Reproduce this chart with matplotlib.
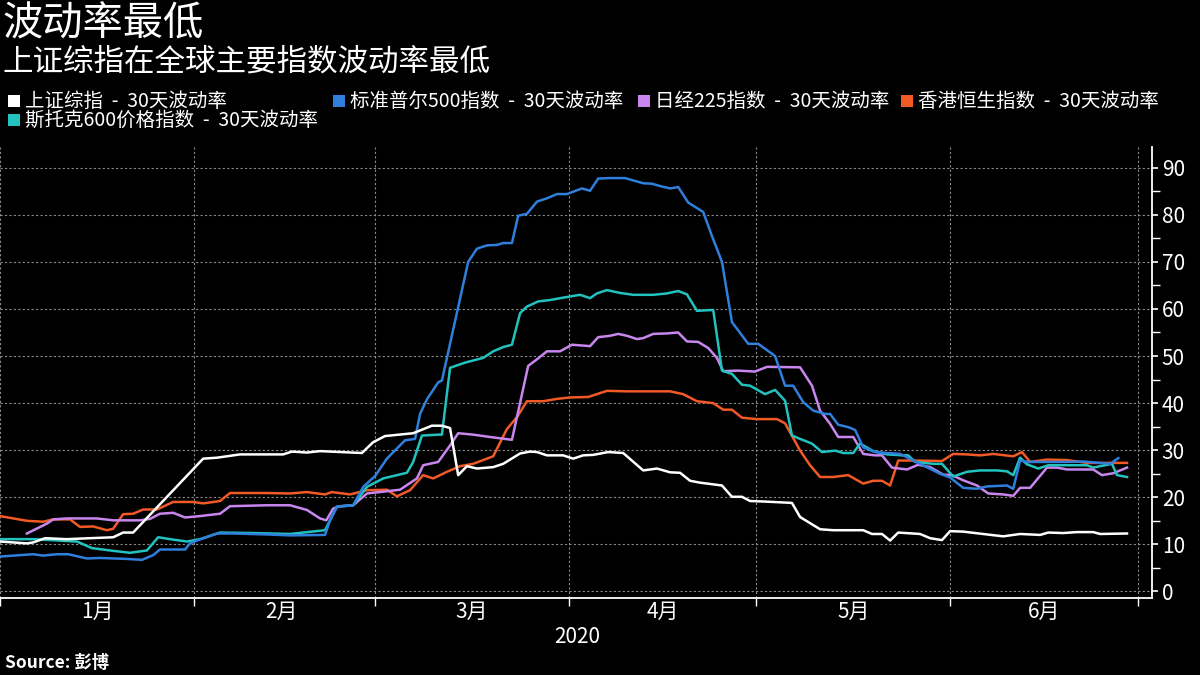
import matplotlib
matplotlib.use('Agg')
import matplotlib.pyplot as plt
import matplotlib.dates as mdates
from matplotlib.patches import Rectangle
import numpy as np
import pandas as pd

plt.rcParams['font.family'] = ['Noto Sans CJK SC', 'DejaVu Sans']

# ---------------- data (days since 2020-01-01, 30-day volatility) ----------------
sse_days = [0, 4.3, 5.3, 7.2, 10.7, 18.1, 19.7, 21.3, 32.5, 34.7, 38.4, 45.3, 46.7, 49.1, 51.2,
            57.9, 59.7, 61.6, 66.1, 69.1, 70.7, 72.0, 73.3, 74.7, 76.3, 78.9, 80.5, 83.2, 84.8, 85.9,
            87.5, 90.1, 91.7, 93.3, 94.9, 97.3, 99.7, 102.9, 105.1, 107.2, 108.8, 110.4, 112.0, 115.5,
            117.1, 118.7, 120.0, 122.1, 126.7, 128.0, 131.2, 133.3, 138.1, 139.5, 141.1, 142.4, 143.7,
            147.2, 148.8, 150.7, 152.0, 154.1, 157.9, 160.5, 163.2, 166.4, 167.7, 170.1, 172.3, 174.9,
            176.0, 180.3]
sse_vals = [10.6, 10.2, 10.4, 11.3, 11.1, 11.5, 12.5, 12.5, 28.2, 28.4, 29.1, 29.1, 29.7, 29.5, 29.8,
            29.4, 31.7, 33.0, 33.6, 35.2, 35.2, 34.7, 24.7, 26.6, 26.1, 26.4, 27.1, 29.3, 29.7, 29.6,
            28.9, 28.9, 28.2, 28.9, 29.0, 29.6, 29.4, 25.7, 26.1, 25.3, 25.2, 23.5, 23.1, 22.5,
            20.1, 20.1, 19.2, 19.1, 18.8, 15.8, 13.2, 13.0, 13.0, 12.2, 12.2, 10.8, 12.5,
            12.2, 11.3, 10.9, 12.8, 12.7, 12.1, 11.7, 12.2, 12.0, 12.5, 12.4, 12.6, 12.6,
            12.2, 12.3]

spx_days = [0, 2.1, 5.3, 6.9, 9.1, 10.9, 13.9, 16.0, 20.3, 22.7, 24.5, 25.6, 29.6, 30.4, 31.5,
            34.7, 37.3, 42.7, 46.4, 52.0, 52.8, 53.9, 56.5, 58.1, 60.0, 61.9, 64.8, 66.4, 67.2, 68.3,
            70.1, 70.7, 74.9, 76.3, 77.9, 79.5, 80.5, 81.9, 82.9, 84.3, 85.9, 87.5, 89.1, 90.7, 93.1,
            94.4, 95.7, 97.6, 100.0, 101.3, 102.9, 104.3, 105.6, 107.2, 108.5, 110.1, 112.5, 113.9,
            115.5, 117.1, 119.7, 121.3, 124.0, 125.6, 126.9, 128.5, 130.1, 132.0, 132.8, 134.1,
            135.7, 136.8, 138.1, 140.0, 141.9, 144.0, 145.1, 147.2, 150.4, 152.0, 154.1, 156.3,
            157.9, 161.1, 162.1, 163.2, 164.5, 167.5, 170.7, 173.3, 177.6, 178.9]
spx_vals = [7.4, 7.6, 7.9, 7.6, 7.9, 7.9, 7.0, 7.1, 6.9, 6.7, 7.7, 8.9, 8.9, 10.2, 10.8,
            12.3, 12.3, 12.1, 11.9, 12.0, 15.1, 18.0, 18.3, 22.2, 24.5, 28.2, 32.1, 32.4, 37.7, 40.8,
            44.4, 44.8, 70.0, 72.8, 73.5, 73.6, 74.0, 74.0, 79.8, 80.2, 82.8, 83.5, 84.4, 84.4, 85.6,
            85.1, 87.7, 87.8, 87.8, 87.3, 86.7, 86.6, 86.1, 85.6, 85.9, 82.6, 80.6, 75.5,
            70.0, 57.2, 52.6, 52.6, 50.0, 43.7, 43.7, 40.2, 38.4, 37.7, 37.7, 35.4,
            34.9, 34.3, 30.6, 29.6, 29.4, 29.2, 28.5, 27.1, 25.0, 24.2, 22.0, 21.8,
            22.3, 22.5, 21.8, 27.8, 27.5, 27.5, 27.5, 27.6, 27.1, 28.3]

nky_days = [4.3, 7.5, 8.5, 10.7, 15.5, 18.1, 22.4, 24.0, 25.6, 27.7, 29.6, 32.0, 35.2, 36.8, 42.7,
            46.4, 49.1, 51.2, 52.2, 53.3, 54.4, 56.5, 58.7, 64.0, 66.7, 67.7, 70.1, 72.0, 73.3, 75.7,
            78.4, 81.9, 84.5, 85.9, 87.5, 89.6, 91.5, 94.4, 95.7, 97.6, 98.9, 100.3, 101.9, 102.9,
            104.5, 106.7, 108.5, 109.9, 111.7, 113.3, 114.7, 115.7, 118.1, 120.8, 122.7, 128.0,
            129.9, 131.2, 132.8, 134.1, 136.5, 138.1, 140.0, 141.1, 142.7, 145.1, 146.9, 148.8,
            150.9, 152.3, 154.1, 156.3, 158.1, 160.5, 162.1, 163.2, 164.8, 167.5, 169.1, 170.7,
            174.9, 176.3, 178.1, 180.3]
nky_vals = [12.3, 14.4, 15.3, 15.5, 15.5, 15.1, 15.1, 15.4, 16.5, 16.7, 15.7, 16.0, 16.5, 18.1, 18.3,
            18.3, 17.3, 15.5, 15.1, 17.6, 18.1, 18.3, 20.8, 21.6, 24.0, 26.8, 27.5, 31.0, 33.6, 33.3,
            32.8, 32.2, 47.9, 49.3, 51.0, 51.0, 52.4, 52.1, 54.0, 54.3, 54.7, 54.3, 53.6, 53.8,
            54.7, 54.8, 55.0, 53.1, 53.0, 51.7, 49.6, 46.8, 46.9, 46.7, 47.7, 47.6,
            43.7, 38.4, 35.6, 32.8, 32.8, 29.2, 28.9, 28.9, 26.3, 25.9, 26.9, 26.4,
            24.8, 24.7, 23.6, 22.5, 20.8, 20.6, 20.3, 22.0, 22.0, 26.3, 26.3, 25.9,
            25.9, 24.7, 25.1, 26.3]

hsi_days = [0, 4.3, 6.9, 8.5, 11.2, 12.8, 14.9, 17.1, 18.1, 19.7, 21.3, 22.9, 25.1, 27.7, 30.9,
            32.5, 35.2, 36.8, 42.7, 46.4, 49.1, 52.0, 53.1, 56.0, 58.7, 61.9, 63.5, 65.6, 67.7, 69.3,
            71.5, 73.6, 75.7, 78.9, 81.1, 82.7, 84.3, 86.9, 89.1, 91.2, 94.1, 97.1, 100.3, 104.0, 107.2,
            109.3, 111.5, 114.1, 115.7, 117.1, 118.7, 121.1, 124.3, 125.6, 128.0, 129.6, 131.2, 133.3,
            135.7, 138.1, 139.7, 141.1, 142.4, 143.7, 146.1, 150.7, 152.5, 154.7, 156.8, 158.9,
            162.1, 163.5, 164.8, 167.5, 170.7, 173.9, 180.3]
hsi_vals = [16.0, 15.0, 14.8, 15.3, 15.3, 13.7, 13.8, 13.0, 13.3, 16.4, 16.5, 17.4, 17.4, 19.0, 19.0,
            18.7, 19.2, 20.9, 20.9, 20.8, 21.1, 20.6, 21.1, 20.6, 21.5, 21.6, 20.2, 21.5, 24.7, 24.0,
            25.4, 26.6, 27.1, 28.7, 34.5, 37.0, 40.4, 40.4, 40.9, 41.2, 41.3, 42.6, 42.5, 42.5, 42.5,
            41.9, 40.4, 40.0, 38.6, 38.6, 36.9, 36.6, 36.6, 35.7, 29.9, 26.8, 24.3, 24.3,
            24.7, 22.9, 23.5, 23.5, 22.5, 27.8, 27.8, 27.7, 29.2, 29.1, 28.9, 29.2,
            28.7, 29.6, 27.5, 28.0, 27.9, 27.3, 27.3]

sxx_days = [0, 5.3, 12.3, 14.7, 17.6, 20.8, 23.5, 25.3, 27.7, 29.9, 32.0, 35.2, 40.5, 46.4, 52.0,
            53.9, 56.5, 58.7, 61.3, 65.1, 66.1, 67.5, 70.1, 70.7, 72.0, 74.4, 77.3, 78.9, 80.5, 81.9,
            83.2, 84.3, 86.1, 88.0, 90.1, 92.8, 94.4, 95.5, 97.1, 99.2, 101.3, 104.5, 106.7, 108.5,
            109.9, 111.5, 114.1, 115.5, 117.1, 118.7, 120.0, 122.4, 124.0, 125.6, 126.7, 128.0,
            129.9, 131.5, 133.6, 134.9, 136.5, 137.6, 139.7, 141.9, 144.5, 145.3, 146.4, 149.3,
            150.7, 152.5, 154.7, 156.8, 159.5, 161.1, 162.1, 163.2, 164.3, 166.1, 167.7, 170.7,
            173.9, 174.9, 177.9, 178.7, 180.3]
sxx_vals = [11.1, 11.1, 10.6, 9.2, 8.7, 8.2, 8.7, 11.5, 11.0, 10.6, 11.1, 12.5, 12.4, 12.2, 13.0,
            18.0, 18.3, 22.2, 24.0, 25.2, 27.5, 33.1, 33.3, 33.3, 47.5, 48.6, 49.6, 51.0, 51.9, 52.4,
            59.1, 60.5, 61.6, 61.9, 62.4, 63.0, 62.3, 63.3, 64.0, 63.4, 63.0, 63.0, 63.3, 63.8,
            63.1, 59.6, 59.8, 46.9, 46.2, 43.9, 43.7, 41.9, 42.8, 40.5, 33.1, 32.4,
            31.4, 29.6, 29.9, 29.4, 29.4, 31.4, 29.8, 29.1, 28.9, 28.9, 27.5, 27.1,
            27.1, 24.4, 25.4, 25.7, 25.7, 25.5, 24.7, 28.4, 27.0, 26.1, 26.8, 26.8,
            26.8, 26.3, 27.1, 24.7, 24.3]

labels = ['上证综指 - 30天波动率', '标准普尔500指数 - 30天波动率', '日经225指数 - 30天波动率',
          '香港恒生指数 - 30天波动率', '斯托克600价格指数 - 30天波动率']
colors = ['#ffffff', '#2f7fdc', '#c886ee', '#f15a24', '#22c2bf']
month_labels = ['1月', '2月', '3月', '4月', '5月', '6月']
y_ticks = [0, 10, 20, 30, 40, 50, 60, 70, 80, 90]

start = pd.Timestamp('2020-01-01')


def to_dates(days):
    return start + pd.to_timedelta(np.array(days, dtype=float), unit='D')


series = [(sse_days, sse_vals), (spx_days, spx_vals), (nky_days, nky_vals),
          (hsi_days, hsi_vals), (sxx_days, sxx_vals)]

# ---------------- figure ----------------
W, H = 1200, 675
fig = plt.figure(figsize=(12, 6.75), dpi=100, facecolor='black')
ax = fig.add_axes([0.0, 1 - 598 / H, 1152 / W, (598 - 147) / H])
ax.set_facecolor('black')

draw_order = [3, 2, 4, 1, 0]
for i in draw_order:
    d, v = series[i]
    ax.plot(to_dates(d), v, color=colors[i], linewidth=1.8, solid_joinstyle='round', zorder=3)

ax.set_xlim(start, start + pd.Timedelta(days=184.3))
ax.set_ylim(-1.4, 94.4)

# y axis on right
ax.yaxis.tick_right()
ax.set_yticks(y_ticks)
ax.set_yticks([5, 15, 25, 35, 45, 55, 65, 75, 85], minor=True)
ax.tick_params(axis='y', which='major', colors='white', labelsize=15, length=4, width=1.2, pad=3)
ax.tick_params(axis='y', which='minor', colors='white', length=6, width=1.0)

# x axis months
ax.xaxis.set_major_locator(mdates.MonthLocator())
ax.xaxis.set_major_formatter(plt.NullFormatter())
mid = [start + pd.Timedelta(days=x) for x in [15.5, 45, 75.5, 106, 136.5, 167]]
ax.xaxis.set_minor_locator(matplotlib.ticker.FixedLocator(mdates.date2num(mid)))
ax.xaxis.set_minor_formatter(matplotlib.ticker.FixedFormatter(month_labels))
ax.tick_params(axis='x', which='major', colors='white', length=6, width=1.0, direction='out')
ax.tick_params(axis='x', which='minor', colors='white', length=0, labelsize=15, pad=2)

ax.grid(which='major', color='#8a8a8a', linestyle=(0, (2, 2)), linewidth=0.8, zorder=0)

for s in ['top', 'left']:
    ax.spines[s].set_visible(False)
for s in ['right', 'bottom']:
    ax.spines[s].set_color('white')
    ax.spines[s].set_linewidth(1.3)

# ---------------- texts ----------------
fig.text(2 / W, 1 - 24 / H, '波动率最低', color='white', fontsize=29, va='center', ha='left')
fig.text(2 / W, 1 - 62 / H, '上证综指在全球主要指数波动率最低', color='white', fontsize=22,
         va='center', ha='left')

legend_pos = [(8, 101), (333, 101), (638, 101), (901, 101), (8, 120)]
for lab, col, (lx, ly) in zip(labels, colors, legend_pos):
    fig.patches.append(Rectangle((lx / W, 1 - (ly + 6) / H), 12 / W, 12 / H,
                                 transform=fig.transFigure, facecolor=col, edgecolor='none'))
    fig.text((lx + 17) / W, 1 - ly / H, lab.replace(' - ', '  -  '), color='white', fontsize=14,
             va='center', ha='left')

fig.text(577 / W, 1 - 637 / H, '2020', color='white', fontsize=15, va='center', ha='center')
fig.text(5 / W, 1 - 663 / H, 'Source: 彭博', color='white', fontsize=12.5, fontweight='bold',
         va='center', ha='left')

fig.savefig('out.png', dpi=100, facecolor='black')
